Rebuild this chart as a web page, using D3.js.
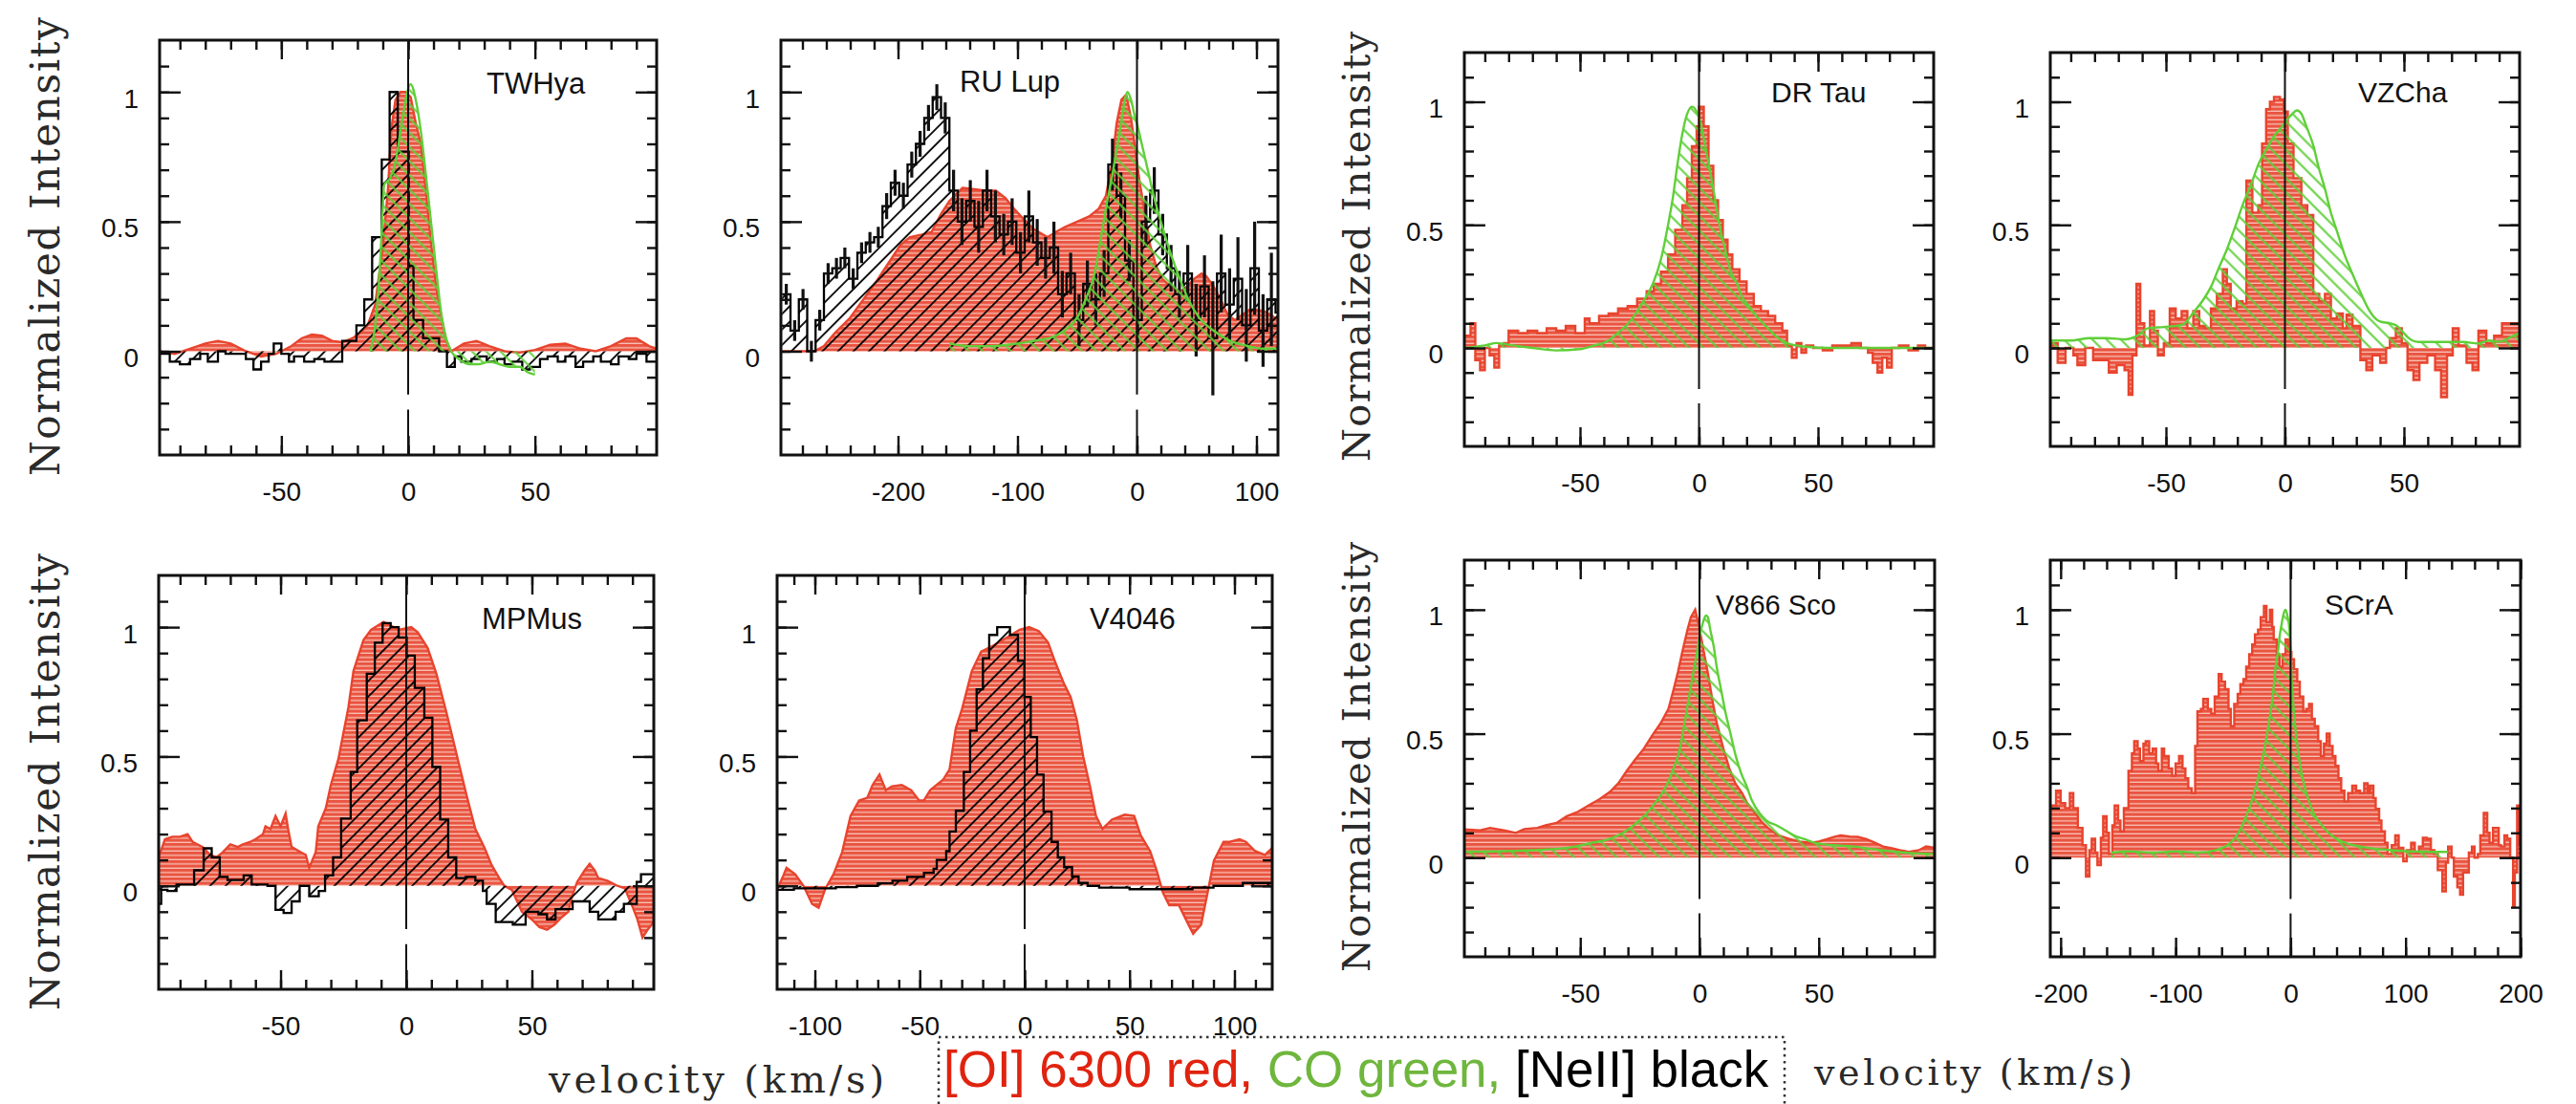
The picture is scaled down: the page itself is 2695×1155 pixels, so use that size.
<!DOCTYPE html>
<html><head><meta charset="utf-8">
<script src="https://cdn.jsdelivr.net/npm/d3@7"></script>
<style>body{margin:0;background:#fff}svg{display:block}text{white-space:pre}</style>
</head><body>
<svg id="chart" width="2695" height="1155"></svg>
<script>
// ---------------- DATA ----------------
const panelNames = ["TWHya","RU Lup","DR Tau","VZCha","MPMus","V4046","V866 Sco","SCrA"];
const xDomains = [[-98,98],[-298,118],[-98.6,98.6],[-98.6,98.6],[-98.5,98.5],[-118,118],[-98.6,98.6],[-209,200]];
const yDomain = [-0.4,1.2];
const xTickLabels = [[-50,0,50],[-200,-100,0,100],[-50,0,50],[-50,0,50],[-50,0,50],[-100,-50,0,50,100],[-50,0,50],[-200,-100,0,100,200]];
const xMinorStep = [10,20,10,10,10,10,10,20];
const yTickLabels = [0,0.5,1];
const yAxisTitle = "Normalized Intensity";
const xAxisTitle = "velocity (km/s)";
const legendParts = ["[OI] 6300 red, ","CO green, ","[NeII] black"];

// [velocity km/s, normalized intensity]
const twhyaOI = [[-98,0.0],[-92,-0.01],[-86,0.01],[-80,0.03],[-75,0.04],[-70,0.03],[-64,0.0],[-58,-0.02],[-52,-0.01],[-46,0.02],[-42,0.05],[-38,0.065],[-34,0.06],[-30,0.04],[-26,0.035],[-22,0.05],[-19,0.07],[-16,0.1],[-13,0.18],[-11,0.33],[-10,0.4],[-8,0.62],[-6.6,0.86],[-5,0.97],[-3,1.0],[-1,1.0],[1,0.98],[3,0.88],[5,0.8],[7,0.62],[9,0.42],[11,0.25],[13,0.14],[15,0.04],[17,0.0],[22,0.03],[27,0.04],[32,0.02],[38,0.0],[44,-0.005],[50,0.005],[56,0.025],[62,0.03],[68,0.01],[74,0.0],[80,0.02],[86,0.05],[90,0.05],[95,0.02],[98,0.01]];
const twhyaNeII = [[-98,-0.01],[-94,-0.04],[-90,-0.05],[-86,-0.03],[-82,-0.01],[-79,-0.04],[-75,0.0],[-72,-0.01],[-68,-0.01],[-64,-0.03],[-61,-0.07],[-58,-0.04],[-55,-0.01],[-53,0.03],[-50,-0.01],[-47,-0.04],[-45,-0.02],[-41,-0.04],[-37,-0.03],[-33,-0.04],[-29,-0.04],[-26,0.04],[-20.4,0.1],[-17.3,0.2],[-14.2,0.44],[-10.4,0.74],[-7.3,1.0],[-4.1,0.77],[0.25,0.33],[2.1,0.12],[5.9,0.05],[12.2,0.0],[15.3,-0.06],[18.4,-0.02],[21,-0.04],[25,-0.03],[28,-0.02],[31,-0.04],[35,-0.03],[38,-0.05],[41,-0.04],[45,-0.07],[48,-0.06],[52,-0.03],[55,-0.02],[59,-0.04],[62,-0.02],[66,-0.06],[69,-0.04],[73,-0.02],[76,-0.04],[80,-0.05],[83,-0.02],[87,-0.03],[90,-0.01],[94,-0.04],[98,-0.04]];
const twhyaCO = [[-15,0.0],[-13,0.1],[-11,0.35],[-10,0.55],[-9.5,0.64],[-7,0.67],[-5,0.73],[-3,0.85],[-1,0.97],[1,1.03],[3,0.97],[5,0.85],[7,0.68],[9,0.5],[11,0.32],[13,0.15],[15,0.05],[17,0.0],[20,-0.03],[24,-0.05],[28,-0.05],[32,-0.04],[36,-0.05],[40,-0.06],[44,-0.06],[47,-0.08],[50,-0.09]];

const rulupOI = [[-298,0.0],[-270,0.0],[-262,0.02],[-253,0.07],[-240,0.13],[-229,0.2],[-218,0.27],[-208,0.34],[-198,0.41],[-190,0.44],[-180,0.45],[-172,0.46],[-164,0.53],[-157,0.58],[-146,0.63],[-136,0.625],[-127,0.62],[-118,0.62],[-110,0.59],[-103,0.55],[-95,0.51],[-86,0.47],[-75,0.44],[-68,0.46],[-60,0.48],[-50,0.5],[-40,0.52],[-32,0.55],[-26,0.6],[-21,0.72],[-17,0.88],[-13,0.97],[-9,0.99],[-5,0.9],[-2,0.8],[2,0.66],[6,0.55],[11,0.41],[16,0.33],[21,0.28],[28,0.25],[36,0.23],[42,0.25],[48,0.28],[54,0.3],[58,0.29],[64,0.25],[70,0.2],[76,0.14],[82,0.12],[88,0.14],[94,0.16],[100,0.16],[106,0.155],[112,0.14],[118,0.12]];
const rulupNeII = [[-297,0.22],[-290,0.08],[-283,0.2],[-276,0.0],[-269,0.12],[-262,0.3],[-255,0.32],[-248,0.36],[-241,0.28],[-234,0.38],[-227,0.42],[-220,0.44],[-213,0.56],[-206,0.65],[-199,0.6],[-192,0.72],[-185,0.8],[-178,0.9],[-171,0.98],[-164,0.9],[-157,0.62],[-150,0.5],[-143,0.58],[-136,0.48],[-129,0.62],[-122,0.52],[-115,0.45],[-108,0.5],[-101,0.38],[-94,0.52],[-87,0.42],[-80,0.36],[-73,0.4],[-66,0.22],[-59,0.3],[-52,0.12],[-45,0.26],[-38,0.2],[-31,0.3],[-24,0.72],[-17,0.6],[-10,0.35],[-3,0.12],[4,0.5],[11,0.62],[18,0.45],[25,0.32],[32,0.22],[39,0.3],[46,0.12],[53,0.25],[60,0.05],[67,0.3],[74,0.18],[81,0.28],[88,0.1],[95,0.32],[102,0.08],[109,0.2],[116,0.15],[123,0.15]];
const rulupNeIIErr = [0.04,0.04,0.04,0.04,0.04,0.04,0.04,0.04,0.04,0.04,0.04,0.04,0.05,0.05,0.05,0.05,0.05,0.05,0.05,0.06,0.08,0.09,0.08,0.1,0.08,0.1,0.08,0.09,0.08,0.1,0.09,0.08,0.1,0.09,0.08,0.1,0.09,0.1,0.09,0.1,0.09,0.08,0.09,0.1,0.09,0.08,0.09,0.09,0.11,0.14,0.12,0.22,0.15,0.14,0.16,0.14,0.18,0.14,0.18,0.14];
const rulupCO = [[-157,0.03],[-140,0.02],[-121,0.02],[-100,0.03],[-86,0.04],[-68,0.06],[-58,0.09],[-50,0.13],[-43,0.2],[-36,0.29],[-29,0.47],[-24,0.6],[-21,0.67],[-17,0.78],[-14,0.86],[-11,0.95],[-8,1.0],[-5,0.97],[-2,0.91],[1,0.86],[4,0.8],[9,0.7],[14,0.6],[20,0.5],[28,0.38],[35,0.29],[43,0.2],[52,0.13],[64,0.08],[78,0.04],[93,0.02],[105,0.01],[118,0.01]];

const drtauOI = [[-98.6,0.05],[-96,0.1],[-94,-0.05],[-92,-0.09],[-90,0.0],[-88,-0.03],[-86,-0.08],[-84,0.01],[-82,0.02],[-80,0.07],[-76,0.06],[-72,0.07],[-68,0.06],[-64,0.08],[-60,0.07],[-56,0.09],[-52,0.06],[-48,0.12],[-46,0.1],[-42,0.13],[-38,0.14],[-34,0.16],[-30,0.17],[-26,0.2],[-22,0.23],[-19,0.26],[-16,0.31],[-13,0.38],[-10,0.48],[-7,0.58],[-5,0.69],[-3,0.82],[-1,0.9],[0,0.98],[2,0.9],[4,0.74],[6,0.6],[8,0.52],[10,0.44],[12,0.38],[14,0.32],[17,0.27],[20,0.22],[23,0.17],[26,0.15],[29,0.13],[32,0.1],[35,0.07],[37,0.01],[39,-0.04],[41,0.02],[43,-0.02],[45,0.01],[48,0.0],[52,-0.01],[56,0.01],[60,0.01],[64,0.02],[68,0.0],[71,-0.02],[73,-0.06],[75,-0.1],[77,-0.04],[79,-0.08],[81,0.0],[84,0.01],[88,-0.01],[92,0.01],[95,0.0],[98.6,0.0]];
const drtauCO = [[-98.6,0.0],[-90,0.01],[-85,0.02],[-78,0.01],[-70,0.0],[-60,-0.01],[-50,-0.005],[-44,0.01],[-39,0.025],[-33,0.07],[-28,0.12],[-24,0.18],[-19,0.27],[-16,0.36],[-13,0.5],[-11,0.61],[-9,0.75],[-7,0.87],[-5,0.95],[-3,0.98],[-1,0.96],[1,0.9],[3,0.8],[5,0.7],[7,0.59],[9,0.48],[11,0.4],[13,0.32],[16,0.26],[18,0.21],[21,0.17],[24,0.13],[28,0.09],[32,0.05],[37,0.02],[45,0.005],[55,0.0],[70,0.0],[85,0.0],[98.6,0.0]];

const vzchaOI = [[-98.6,0.02],[-95.5,-0.06],[-92.2,0.0],[-88.9,-0.03],[-87.2,-0.07],[-83.9,0.0],[-80.6,-0.05],[-74,-0.1],[-70.7,-0.07],[-67.4,-0.09],[-65.7,-0.19],[-64.1,-0.03],[-62.4,0.26],[-60.8,0.1],[-59.1,0.01],[-56.7,0.15],[-55,0.07],[-53.4,-0.03],[-50.9,0.02],[-48.4,0.16],[-45.9,0.12],[-43.4,0.15],[-41,0.08],[-38.5,0.15],[-36,0.09],[-33.5,0.08],[-31.1,0.16],[-28.6,0.22],[-26.1,0.32],[-24.4,0.26],[-22.8,0.16],[-20.3,0.19],[-17.8,0.18],[-16.2,0.68],[-13.7,0.55],[-11.2,0.58],[-9.6,0.83],[-7.9,0.97],[-6.3,1.0],[-4.6,1.02],[-2.1,1.01],[-0.5,0.96],[1.2,0.83],[3.6,0.69],[6.9,0.58],[9.4,0.54],[11.9,0.22],[14.4,0.19],[16.8,0.22],[19.3,0.12],[21.8,0.14],[24.3,0.08],[25.9,0.135],[28.4,0.09],[31.7,-0.05],[34.2,-0.09],[36.7,-0.03],[40,-0.06],[42.5,0.0],[44.1,0.04],[46.6,0.08],[49.1,0.02],[51.5,-0.09],[54,-0.13],[56.5,-0.06],[59.8,-0.03],[63.1,-0.09],[65.6,-0.2],[68.1,-0.03],[70.5,0.08],[73,0.01],[76.3,-0.06],[78.8,-0.09],[81.3,0.07],[84.6,0.02],[87.9,0.05],[91.2,0.1],[94.5,0.1],[98.6,0.02]];
const vzchaCO = [[-98.6,0.03],[-90,0.03],[-82,0.04],[-75,0.04],[-67,0.035],[-62,0.05],[-57.5,0.08],[-51,0.085],[-43,0.095],[-38,0.15],[-34,0.2],[-31,0.25],[-28,0.32],[-24.4,0.4],[-21,0.49],[-17.8,0.58],[-14,0.67],[-11,0.75],[-7,0.82],[-4.6,0.86],[-2,0.89],[0.3,0.92],[3,0.95],[5,0.965],[7,0.95],[9,0.9],[12,0.82],[14,0.74],[17,0.64],[19,0.56],[22,0.47],[25,0.38],[28.4,0.3],[32,0.22],[35,0.16],[38,0.12],[40,0.107],[44,0.1],[47,0.09],[50,0.06],[52,0.04],[56,0.024],[65,0.024],[75,0.024],[81,0.018],[86,0.03],[90,0.025],[95,0.045],[98.6,0.06]];

const mpmusOI = [[-98.5,0.11],[-96,0.18],[-93,0.19],[-90,0.19],[-87,0.2],[-85,0.17],[-81,0.15],[-78,0.12],[-75.5,0.11],[-73,0.13],[-70,0.16],[-67,0.15],[-65,0.16],[-62,0.17],[-60,0.18],[-57,0.2],[-56,0.23],[-54,0.22],[-52,0.27],[-50,0.23],[-48,0.28],[-47,0.22],[-45.6,0.15],[-42,0.13],[-40,0.12],[-38.6,0.07],[-36,0.13],[-35,0.23],[-32,0.3],[-30,0.39],[-27,0.49],[-25,0.59],[-23,0.69],[-21,0.83],[-17,0.95],[-14,0.99],[-9,1.02],[-3,0.99],[2,1.0],[4.6,0.98],[8.5,0.92],[12,0.82],[16,0.67],[20,0.51],[24,0.35],[27.5,0.22],[31,0.15],[34,0.08],[37,0.03],[39,0.0],[42,-0.015],[46,-0.1],[50,-0.13],[53,-0.16],[56,-0.17],[59,-0.15],[62,-0.12],[64.5,-0.1],[66,-0.04],[68,0.015],[71,0.06],[73,0.085],[75,0.06],[76.4,0.03],[80,0.02],[84,0.0],[87,-0.01],[90,-0.08],[92,-0.13],[94,-0.2],[96,-0.17],[98.5,-0.14]];
const mpmusNeII = [[-98.5,-0.07],[-97.5,-0.015],[-95,-0.02],[-91.4,0.005],[-84.4,0.06],[-80.6,0.145],[-77.4,0.11],[-74.2,0.035],[-71.1,0.023],[-64.7,0.04],[-61.5,0.005],[-55.2,0.0],[-52,-0.093],[-48.8,-0.105],[-45.6,-0.06],[-42.4,0.0],[-38.6,-0.04],[-34.8,-0.02],[-32.3,0.04],[-29.1,0.11],[-25.9,0.26],[-22.1,0.44],[-19.5,0.64],[-15.7,0.82],[-12.5,0.94],[-9.4,1.016],[-6.2,1.0],[-3,0.96],[0.2,0.89],[3.4,0.765],[7.2,0.65],[10.4,0.46],[13.5,0.256],[16.7,0.11],[19.9,0.03],[23.7,0.035],[27.5,0.02],[30.5,-0.02],[32,-0.07],[35.6,-0.14],[42.4,-0.15],[47.5,-0.1],[52.6,-0.11],[56,-0.13],[59.4,-0.09],[66.2,-0.06],[73,-0.1],[76.4,-0.13],[83.3,-0.1],[86.6,-0.07],[91.7,0.015],[93.4,0.045],[98.5,0.045]];

const v4046OI = [[-118,-0.015],[-115,0.04],[-113.5,0.07],[-109.4,0.045],[-105.4,0.0],[-101.3,-0.07],[-98.2,-0.085],[-95.2,-0.015],[-91.1,0.045],[-87,0.13],[-83,0.27],[-78.9,0.33],[-75,0.34],[-72.5,0.39],[-69.2,0.43],[-66.2,0.37],[-63.2,0.385],[-58.6,0.39],[-54.1,0.37],[-50.3,0.33],[-48,0.33],[-45,0.37],[-38.9,0.41],[-35.8,0.45],[-32.8,0.61],[-29.8,0.685],[-25.2,0.83],[-20.7,0.906],[-14.6,0.93],[-8.5,0.96],[-2.4,0.99],[2.1,1.0],[6.7,0.985],[11.2,0.94],[14.3,0.87],[18.8,0.78],[21.9,0.73],[24.9,0.64],[27.9,0.5],[31,0.39],[34,0.27],[37.1,0.22],[41.6,0.256],[47.7,0.275],[52.2,0.27],[55.3,0.195],[59.8,0.134],[62.9,0.06],[65.9,-0.026],[68.9,-0.075],[73.5,-0.075],[78.1,-0.15],[80.3,-0.185],[84.1,-0.15],[87.2,-0.026],[90.2,0.097],[94.8,0.17],[97.8,0.17],[102.4,0.18],[105.4,0.17],[109.9,0.134],[114.5,0.12],[118,0.146]];
const v4046NeII = [[-118,-0.015],[-110,-0.01],[-100,-0.01],[-90,-0.005],[-80,0.0],[-70,0.01],[-63,0.02],[-56,0.035],[-48,0.05],[-43.4,0.066],[-41.9,0.1],[-37.4,0.134],[-35.8,0.21],[-32.8,0.29],[-29,0.44],[-26,0.6],[-22.9,0.76],[-19.9,0.88],[-16.9,0.97],[-13.1,1.0],[-7,0.97],[-3.2,0.87],[-0.15,0.73],[2.9,0.575],[5.9,0.43],[9,0.287],[12.8,0.17],[15.8,0.11],[18.8,0.072],[22.6,0.036],[25.7,0.011],[30,0.0],[35.5,-0.007],[50,-0.013],[65,-0.013],[80,-0.007],[90,0.0],[104,0.011],[118,0.011]];

const v866OI = [[-98.6,0.114],[-92,0.11],[-87.8,0.12],[-82,0.11],[-77,0.1],[-73.5,0.115],[-68,0.12],[-64.5,0.13],[-60,0.14],[-55.6,0.167],[-51,0.185],[-46.6,0.21],[-42,0.235],[-37.6,0.265],[-34,0.3],[-30.5,0.35],[-27,0.395],[-23.3,0.44],[-20,0.49],[-16.1,0.545],[-13,0.6],[-10.8,0.68],[-9,0.75],[-7.2,0.83],[-5,0.92],[-3.6,0.97],[-1.8,1.0],[0,0.924],[2,0.82],[3.6,0.74],[5.5,0.63],[7.2,0.545],[10,0.44],[12.5,0.36],[15,0.3],[17.9,0.26],[20,0.22],[23.3,0.18],[26,0.145],[28.7,0.12],[33,0.09],[37.6,0.076],[42,0.065],[46.6,0.06],[50,0.065],[53.8,0.076],[57,0.085],[59.2,0.09],[63,0.085],[66.3,0.084],[70,0.075],[73.5,0.06],[77,0.045],[80.7,0.038],[84,0.03],[87.8,0.023],[92,0.03],[95,0.045],[98.6,0.04]];
const v866CO = [[-98.6,0.023],[-85,0.025],[-70,0.03],[-60,0.035],[-52,0.045],[-45,0.06],[-37.6,0.076],[-32,0.1],[-26.9,0.136],[-22,0.18],[-17.9,0.23],[-15,0.27],[-12.5,0.32],[-10.5,0.37],[-9,0.41],[-7,0.5],[-5.4,0.59],[-4,0.67],[-2.7,0.74],[-1,0.83],[0,0.89],[1.5,0.95],[2.7,0.977],[3.5,0.97],[4.5,0.92],[6,0.85],[7.2,0.77],[9,0.68],[10.8,0.59],[13,0.5],[15.2,0.41],[17.5,0.34],[19.7,0.29],[22,0.23],[25.1,0.18],[28,0.15],[32.3,0.13],[36,0.11],[39.4,0.09],[44,0.075],[48.4,0.06],[56,0.05],[64.5,0.045],[72,0.035],[82.5,0.023],[90,0.018],[98.6,0.015]];

const scraOI = [[-209,0.21],[-204,0.27],[-200,0.22],[-196,0.2],[-192,0.26],[-189,0.2],[-185,0.12],[-181,0.05],[-178,-0.076],[-175,0.03],[-173,0.076],[-170,0.02],[-168,-0.03],[-165,0.08],[-163,0.167],[-160,0.1],[-158,0.015],[-155,0.13],[-153,0.21],[-150,0.15],[-148,0.106],[-145,0.2],[-141,0.35],[-138,0.42],[-136,0.47],[-133,0.44],[-131,0.39],[-128,0.46],[-126,0.47],[-123,0.42],[-120,0.44],[-117,0.38],[-115,0.35],[-112,0.44],[-110,0.41],[-106,0.36],[-103,0.33],[-100,0.38],[-97,0.41],[-94,0.36],[-91.5,0.32],[-89,0.28],[-86,0.26],[-83,0.45],[-81,0.59],[-78,0.6],[-76,0.64],[-72,0.6],[-69,0.58],[-66,0.65],[-62.5,0.74],[-60,0.71],[-57,0.68],[-54,0.6],[-52,0.53],[-49,0.62],[-46,0.66],[-43.7,0.7],[-41,0.72],[-38.6,0.77],[-36,0.82],[-33.4,0.86],[-31,0.9],[-28.3,0.92],[-26,0.97],[-23.2,1.015],[-21,0.95],[-18,1.0],[-16,0.93],[-14.7,0.88],[-12,0.82],[-9.6,0.77],[-7,0.82],[-4.4,0.88],[-2,0.83],[0.7,0.8],[3,0.76],[5.8,0.71],[8,0.65],[11,0.59],[13.5,0.6],[16,0.62],[18.5,0.56],[21,0.53],[24,0.47],[26.3,0.41],[29,0.46],[31.4,0.5],[34,0.45],[36.5,0.41],[39,0.37],[41.6,0.32],[44,0.27],[46.8,0.227],[50,0.26],[53.6,0.29],[57,0.27],[60.4,0.26],[64,0.3],[67,0.26],[69,0.29],[72,0.24],[74,0.197],[77,0.15],[79,0.106],[82,0.06],[84.3,0.015],[88,0.05],[91,0.09],[94,0.04],[98,-0.015],[101,0.03],[104.8,0.06],[108,0.02],[111.6,0.045],[115,0.08],[118.4,0.076],[122,0.03],[125,0.015],[128,-0.05],[132,-0.136],[135,-0.02],[137,0.045],[140,0.0],[142,-0.076],[145,-0.12],[147.4,-0.15],[150,-0.06],[152.6,-0.06],[155,0.02],[157.7,0.045],[160,0.0],[162.8,0.015],[165,0.09],[168,0.18],[171,0.1],[173,0.06],[176,0.12],[178,0.12],[181,0.05],[183,0.045],[186,0.09],[188.4,0.076],[191,0.0],[193.5,-0.2],[195,-0.06],[197,0.21],[199,0.05],[200,0.05]];
const scraCO = [[-156,0.02],[-140,0.025],[-120,0.02],[-100,0.025],[-80,0.02],[-65,0.03],[-55,0.05],[-48.8,0.076],[-43,0.12],[-38.6,0.167],[-33,0.24],[-28.3,0.32],[-24.5,0.4],[-21.5,0.47],[-19,0.54],[-16.4,0.62],[-14.5,0.7],[-13,0.77],[-11,0.83],[-9.6,0.89],[-7.5,0.95],[-6,0.985],[-4.4,1.0],[-2.5,0.97],[-1,0.92],[0,0.84],[0.7,0.74],[2,0.64],[4,0.53],[6.5,0.43],[9.2,0.35],[12.5,0.28],[16,0.227],[21,0.17],[26.3,0.136],[33,0.1],[40,0.076],[50,0.055],[60.4,0.045],[75,0.035],[87.7,0.03],[105,0.025],[121.8,0.023],[137,0.023]];

// ---------------- LAYOUT (positions only) ----------------
const layout = [
 {L:167,T:42,R:687,B:476, tx:509, ty:98, tfs:31},
 {L:817,T:42,R:1337,B:476, tx:1004, ty:96, tfs:31},
 {L:1532,T:55,R:2023,B:467, tx:1853, ty:107, tfs:30},
 {L:2145,T:55,R:2636,B:467, tx:2467, ty:107, tfs:30},
 {L:166,T:602,R:684,B:1035, tx:504, ty:658, tfs:31},
 {L:813,T:602,R:1331,B:1035, tx:1140, ty:658, tfs:31},
 {L:1532,T:586,R:2024,B:1001, tx:1795, ty:643, tfs:29},
 {L:2145,T:586,R:2637,B:1001, tx:2432, ty:643, tfs:30}
];
const series = [
 {oi:twhyaOI, oiStep:false, ne:twhyaNeII, co:twhyaCO},
 {oi:rulupOI, oiStep:false, ne:rulupNeII, neErr:rulupNeIIErr, co:rulupCO},
 {oi:drtauOI, oiStep:true, co:drtauCO},
 {oi:vzchaOI, oiStep:true, co:vzchaCO},
 {oi:mpmusOI, oiStep:false, ne:mpmusNeII},
 {oi:v4046OI, oiStep:false, ne:v4046NeII},
 {oi:v866OI, oiStep:false, co:v866CO},
 {oi:scraOI, oiStep:true, co:scraCO}
];

const RED = "#e8442e", GREEN = "#5fcf38", INK = "#111";
const SANS = "'Liberation Sans', Arial, Helvetica, sans-serif";
const SERIF = "'DejaVu Serif', 'Liberation Serif', serif";

const svg = d3.select("#chart");
svg.append("rect").attr("width",2695).attr("height",1155).attr("fill","#fff");
const defs = svg.append("defs");
const pr = defs.append("pattern").attr("id","redH").attr("patternUnits","userSpaceOnUse").attr("width",8).attr("height",4.5);
pr.append("rect").attr("width",8).attr("height",4.5).attr("fill","#f7c2b8");
pr.append("rect").attr("width",8).attr("height",3.2).attr("fill","#ea5440");
const pb = defs.append("pattern").attr("id","blkH").attr("patternUnits","userSpaceOnUse").attr("width",11.5).attr("height",11.5).attr("patternTransform","rotate(45)");
pb.append("line").attr("x1",5.75).attr("x2",5.75).attr("y1",-1).attr("y2",13).attr("stroke","#000").attr("stroke-width",1.8);
const pgH = defs.append("pattern").attr("id","grnH").attr("patternUnits","userSpaceOnUse").attr("width",10.5).attr("height",10.5).attr("patternTransform","rotate(-45)");
pgH.append("line").attr("x1",5.25).attr("x2",5.25).attr("y1",-1).attr("y2",12).attr("stroke",GREEN).attr("stroke-width",2);

layout.forEach((p,i)=>{
  const xd = xDomains[i];
  const x = d3.scaleLinear().domain(xd).range([p.L,p.R]);
  const y = d3.scaleLinear().domain(yDomain).range([p.B,p.T]);
  const g = svg.append("g");
  defs.append("clipPath").attr("id","clip"+i).append("rect")
    .attr("x",p.L).attr("y",p.T).attr("width",p.R-p.L).attr("height",p.B-p.T);
  const pg = g.append("g").attr("clip-path",`url(#clip${i})`);
  const s = series[i];
  const mk = curve => ({
    area: d3.area().x(d=>x(d[0])).y0(y(0)).y1(d=>y(d[1])).curve(curve),
    line: d3.line().x(d=>x(d[0])).y(d=>y(d[1])).curve(curve)
  });
  const c1 = mk(s.oiStep ? d3.curveStepAfter : d3.curveLinear);
  pg.append("path").datum(s.oi).attr("d",c1.area).attr("fill","url(#redH)");
  pg.append("path").datum(s.oi).attr("d",c1.line).attr("fill","none").attr("stroke",RED).attr("stroke-width",2.4);
  if (s.ne) {
    const c2 = mk(d3.curveStepAfter);
    pg.append("path").datum(s.ne).attr("d",c2.area).attr("fill","url(#blkH)");
    pg.append("path").datum(s.ne).attr("d",c2.line).attr("fill","none").attr("stroke","#000").attr("stroke-width",2.3);
    if (s.neErr) {
      const bars = s.ne.slice(0,-1).map((d,k)=>({v:(d[0]+s.ne[k+1][0])/2, val:d[1], e:s.neErr[k]}));
      pg.selectAll(".err").data(bars).enter().append("line")
        .attr("x1",d=>x(d.v)).attr("x2",d=>x(d.v))
        .attr("y1",d=>y(d.val-d.e)).attr("y2",d=>y(d.val+d.e))
        .attr("stroke","#111").attr("stroke-width",3.2);
    }
  }
  if (s.co) {
    const c3 = mk(d3.curveMonotoneX);
    pg.append("path").datum(s.co).attr("d",c3.area).attr("fill","url(#grnH)");
    pg.append("path").datum(s.co).attr("d",c3.line).attr("fill","none").attr("stroke",GREEN).attr("stroke-width",2.4);
  }
  // zero velocity marker
  g.append("line").attr("x1",x(0)).attr("x2",x(0)).attr("y1",y(yDomain[1])).attr("y2",y(-0.167)).attr("stroke",INK).attr("stroke-width",2);
  g.append("line").attr("x1",x(0)).attr("x2",x(0)).attr("y1",y(-0.225)).attr("y2",y(yDomain[0])).attr("stroke",INK).attr("stroke-width",2);

  // axes
  const step = xMinorStep[i];
  const minorX = d3.range(Math.ceil(xd[0]/step)*step, xd[1]+1e-9, step);
  const minorY = d3.range(-3,12).map(k=>k/10);
  const styleAxis = sel => { sel.select(".domain").remove(); sel.selectAll(".tick line").attr("stroke",INK).attr("stroke-width",2.4); sel.attr("font-family",SANS).attr("font-size",28).attr("color",INK); };
  g.append("g").attr("transform",`translate(0,${p.B})`).call(d3.axisBottom(x).tickValues(minorX).tickSize(-10).tickSizeOuter(0).tickFormat("")).call(styleAxis);
  g.append("g").attr("transform",`translate(0,${p.T})`).call(d3.axisTop(x).tickValues(minorX).tickSize(-10).tickSizeOuter(0).tickFormat("")).call(styleAxis);
  g.append("g").attr("transform",`translate(0,${p.B})`).call(d3.axisBottom(x).tickValues(xTickLabels[i]).tickSize(-20).tickSizeOuter(0).tickPadding(28).tickFormat(d=>String(d))).call(styleAxis);
  g.append("g").attr("transform",`translate(0,${p.T})`).call(d3.axisTop(x).tickValues(xTickLabels[i]).tickSize(-20).tickSizeOuter(0).tickFormat("")).call(styleAxis);
  g.append("g").attr("transform",`translate(${p.L},0)`).call(d3.axisLeft(y).tickValues(minorY).tickSize(-10).tickSizeOuter(0).tickFormat("")).call(styleAxis);
  g.append("g").attr("transform",`translate(${p.R},0)`).call(d3.axisRight(y).tickValues(minorY).tickSize(-10).tickSizeOuter(0).tickFormat("")).call(styleAxis);
  const yl = g.append("g").attr("transform",`translate(${p.L},0)`).call(d3.axisLeft(y).tickValues(yTickLabels).tickSize(-22).tickSizeOuter(0).tickPadding(22).tickFormat(d=>String(d))).call(styleAxis);
  yl.selectAll("text").attr("dy","0.57em");
  g.append("g").attr("transform",`translate(${p.R},0)`).call(d3.axisRight(y).tickValues(yTickLabels).tickSize(-22).tickSizeOuter(0).tickFormat("")).call(styleAxis);
  g.append("rect").attr("x",p.L).attr("y",p.T).attr("width",p.R-p.L).attr("height",p.B-p.T).attr("fill","none").attr("stroke",INK).attr("stroke-width",3);
  g.append("text").attr("x",p.tx).attr("y",p.ty).attr("font-family",SANS).attr("font-size",p.tfs).attr("fill",INK).text(panelNames[i]);
});

// axis titles
const yTitles = [{x:62,y:258,len:480,fs:42},{x:62,y:818,len:478,fs:42},{x:1433,y:258,len:450,fs:40},{x:1433,y:792,len:450,fs:40}];
yTitles.forEach(t=>{
  svg.append("text").attr("transform",`translate(${t.x},${t.y}) rotate(-90)`).attr("text-anchor","middle")
    .attr("font-family",SERIF).attr("font-size",t.fs).attr("fill","#2a2a2a")
    .attr("textLength",t.len).attr("lengthAdjust","spacing").text(yAxisTitle);
});
const xTitles = [{x:574,y:1143,len:351,fs:40},{x:1898,y:1135,len:333,fs:38}];
xTitles.forEach(t=>{
  svg.append("text").attr("x",t.x).attr("y",t.y).attr("font-family",SERIF).attr("font-size",t.fs).attr("fill","#2a2a2a")
    .attr("textLength",t.len).attr("lengthAdjust","spacing").text(xAxisTitle);
});

// legend box
svg.append("rect").attr("x",982).attr("y",1085).attr("width",885).attr("height",95)
  .attr("fill","none").attr("stroke","#333").attr("stroke-width",2.5).attr("stroke-dasharray","2.5 4.5");
const leg = svg.append("text").attr("x",987).attr("y",1137).attr("font-family",SANS).attr("font-size",53);
const legColors = ["#e0230f","#6fb63d","#000"];
legendParts.forEach((t,k)=>leg.append("tspan").attr("fill",legColors[k]).text(t));
</script>
</body></html>
